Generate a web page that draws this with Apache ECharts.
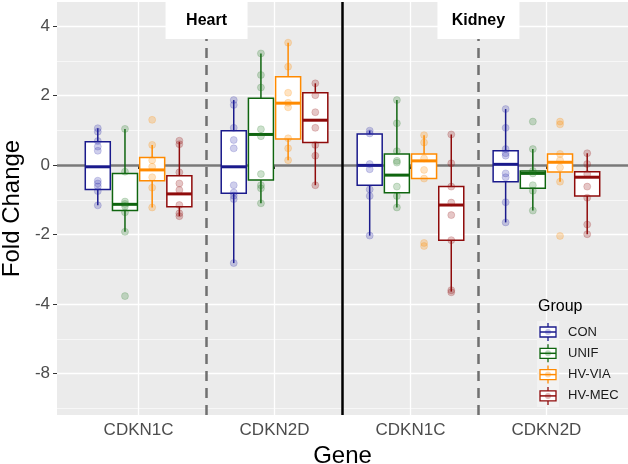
<!DOCTYPE html>
<html>
<head>
<meta charset="utf-8">
<script src="https://cdn.jsdelivr.net/npm/echarts@6/dist/echarts.min.js"></script>
<style>
html,body{margin:0;padding:0;background:#fff;}
#chart{width:628px;height:464px;}
</style>
</head>
<body>
<div id="chart"></div>
<script>
// ---------- data ----------
const genes = ['CDKN1C', 'CDKN2D', 'CDKN1C', 'CDKN2D'];
const tissues = ['Heart', 'Kidney'];
const groups = ['CON', 'UNIF', 'HV-VIA', 'HV-MEC'];
const yTickValues = [4, 2, 0, -2, -4, -6];
const yTickLabels = ['4', '2', '0', '-2', '-4', '-8'];
const yMinorValues = [3, 1, -1, -3, -5, -7];

// box stats per gene panel: [lower whisker, Q1, median, Q3, upper whisker]
const conBox = [
  [-1.16, -0.70, -0.05, 0.67, 1.06],
  [-2.82, -0.81, -0.05, 0.99, 1.87],
  [-2.03, -0.58, -0.01, 0.89, 0.99],
  [-1.65, -0.48, 0.02, 0.41, 1.61]
];
const unifBox = [
  [-1.92, -1.31, -1.13, -0.24, 1.04],
  [-1.10, -0.43, 0.88, 1.92, 3.21],
  [-1.22, -0.80, -0.29, 0.32, 1.87],
  [-1.31, -0.67, -0.24, -0.17, 0.46]
];
const viaBox = [
  [-1.22, -0.45, -0.14, 0.22, 0.58],
  [0.14, 0.75, 1.78, 2.54, 3.52],
  [-0.39, -0.39, 0.12, 0.32, 0.86],
  [-0.48, -0.20, 0.08, 0.32, 0.32]
];
const mecBox = [
  [-1.47, -1.20, -0.83, -0.31, 0.67],
  [-0.58, 0.65, 1.29, 2.08, 2.35],
  [-3.64, -2.16, -1.15, -0.62, 0.88],
  [-1.99, -0.89, -0.35, -0.19, 0.34]
];

// individual observations per gene panel
const conPoints = [
  [1.06, 0.96, 0.69, 0.53, 0.41, -0.45, -0.53, -0.62, -0.75, -1.16],
  [1.87, 1.73, 1.07, 0.72, 0.48, -0.58, -0.79, -0.88, -0.98, -2.82],
  [0.99, 0.91, 0.03, -0.12, -0.70, -0.89, -2.03],
  [1.61, 1.07, 0.46, 0.34, 0.27, -0.24, -0.35, -1.07, -1.65]
];
const unifPoints = [
  [1.04, -0.19, -1.05, -1.12, -1.18, -1.36, -1.92, -3.77],
  [3.21, 2.59, 2.23, 1.03, 0.83, -0.26, -0.58, -0.67, -1.10],
  [1.87, 1.20, 0.40, 0.12, 0.07, -0.62, -0.89, -1.22],
  [1.25, 0.46, -0.17, -0.24, -0.58, -0.74, -1.31]
];
const viaPoints = [
  [1.30, 0.58, 0.14, -0.05, -0.35, -0.65, -1.22],
  [3.52, 2.83, 2.08, 1.79, 1.66, 0.77, 0.48, 0.14],
  [0.86, 0.65, 0.19, -0.14, -0.39, -2.24, -2.33],
  [1.25, 1.17, 0.32, 0.14, -0.07, -0.48, -2.04]
];
const mecPoints = [
  [0.70, 0.60, -0.21, -0.53, -0.72, -1.15, -1.39, -1.47],
  [2.35, 2.01, 1.52, 1.07, 0.58, 0.27, -0.58],
  [0.88, 0.05, -0.62, -1.08, -1.44, -2.16, -3.60, -3.66],
  [0.34, 0.03, -0.26, -0.62, -0.94, -1.71, -1.99]
];

// ---------- styling ----------
const boxSets = [conBox, unifBox, viaBox, mecBox];
const pointSets = [conPoints, unifPoints, viaPoints, mecPoints];
const colors = ['#1a1a8c', '#0f650f', '#ff8a00', '#8f0b0b'];
const fadeColors = ['rgba(40,40,170,0.28)', 'rgba(30,120,30,0.28)', 'rgba(255,140,0,0.30)', 'rgba(150,20,20,0.30)'];
const DODGE = 0.2, BOX_W = 0.184;
const FONT = '"Liberation Sans", Arial, sans-serif';

function renderBox(params, api) {
  const x = api.value(0);
  const lo = api.coord([x, api.value(1)]);
  const q1 = api.coord([x, api.value(2)]);
  const md = api.coord([x, api.value(3)]);
  const q3 = api.coord([x, api.value(4)]);
  const hi = api.coord([x, api.value(5)]);
  const w = api.size([BOX_W, 0])[0];
  const c = api.visual('color');
  return {
    type: 'group',
    children: [
      { type: 'line', shape: { x1: lo[0], y1: lo[1], x2: q1[0], y2: q1[1] }, style: { stroke: c, lineWidth: 1.5 } },
      { type: 'line', shape: { x1: q3[0], y1: q3[1], x2: hi[0], y2: hi[1] }, style: { stroke: c, lineWidth: 1.5 } },
      { type: 'rect', shape: { x: q1[0] - w / 2, y: q3[1], width: w, height: q1[1] - q3[1] }, style: { fill: '#fff', stroke: c, lineWidth: 1.5 } },
      { type: 'line', shape: { x1: md[0] - w / 2, y1: md[1], x2: md[0] + w / 2, y2: md[1] }, style: { stroke: c, lineWidth: 3 } }
    ]
  };
}

const series = [];
series.push({
  type: 'line', data: [], z: 1, silent: true,
  markLine: {
    z: 1, silent: true, symbol: 'none', label: { show: false }, animation: false,
    data: [
      { yAxis: 0, lineStyle: { color: '#787878', width: 2.5, type: 'solid' } },
      { xAxis: 1.5, lineStyle: { color: '#707070', width: 2.5, type: [10, 7] } },
      { xAxis: 3.5, lineStyle: { color: '#707070', width: 2.5, type: [10, 7] } },
      { xAxis: 2.5, lineStyle: { color: '#000', width: 2.5, type: 'solid' } }
    ]
  }
});
groups.forEach((g, gi) => {
  const off = (gi - 1.5) * DODGE;
  series.push({
    name: g, type: 'custom', z: 2, renderItem: renderBox,
    itemStyle: { color: colors[gi] },
    encode: { x: 0, y: [1, 2, 3, 4, 5] },
    data: boxSets[gi].map((b, k) => [k + 1 + off].concat(b))
  });
});
groups.forEach((g, gi) => {
  const off = (gi - 1.5) * DODGE;
  const pts = [];
  pointSets[gi].forEach((arr, k) => arr.forEach(v => pts.push([k + 1 + off, v])));
  series.push({
    name: g + ' pts', type: 'scatter', z: 3, symbolSize: 7,
    itemStyle: { color: fadeColors[gi], borderColor: fadeColors[gi], borderWidth: 0.8 },
    data: pts
  });
});

const chart = echarts.init(document.getElementById('chart'), null, { renderer: 'canvas' });
const option = {
  animation: false,
  backgroundColor: '#fff',
  textStyle: { fontFamily: FONT },
  grid: { left: 57, right: 0, top: 2, bottom: 49, show: true, backgroundColor: '#EBEBEB', borderWidth: 0,
    containLabel: false, outerBoundsMode: 'none' },
  xAxis: [{
    type: 'value', min: 0.4, max: 4.6,
    name: 'Gene', nameLocation: 'middle', nameGap: 24,
    nameTextStyle: { fontSize: 24, color: '#000', fontFamily: FONT },
    axisLine: { show: false },
    axisTick: { show: true, length: 4, customValues: [1, 2, 3, 4], lineStyle: { color: '#333', width: 1 } },
    axisLabel: { customValues: [1, 2, 3, 4], margin: 7, fontSize: 17, color: '#4D4D4D', fontFamily: FONT,
      formatter: v => genes[Math.round(v) - 1] },
    splitLine: { show: true, lineStyle: { color: '#fff', width: 1.3 } }
  }],
  yAxis: [{
    type: 'value', min: -7.19, max: 4.69,
    name: 'Fold Change', nameLocation: 'middle', nameGap: 31, nameRotate: 90,
    nameTextStyle: { fontSize: 24, color: '#000', fontFamily: FONT },
    axisLine: { show: false },
    axisTick: { show: true, length: 4, customValues: yTickValues, lineStyle: { color: '#333', width: 1 } },
    axisLabel: { customValues: yTickValues, margin: 7, fontSize: 17, color: '#4D4D4D', fontFamily: FONT,
      formatter: v => yTickLabels[yTickValues.indexOf(Math.round(v))] },
    splitLine: { show: true, lineStyle: { color: '#fff', width: 1.3 } }
  }, {
    type: 'value', min: -7.19, max: 4.69, position: 'left',
    axisLine: { show: false }, axisLabel: { show: false },
    axisTick: { show: false, customValues: yMinorValues },
    splitLine: { show: true, lineStyle: { color: '#fff', width: 0.6 } }
  }],
  series: series
};
chart.setOption(option);

// strip labels and legend (graphic overlay)
const graphics = [];
[1.5, 3.5].forEach((xv, i) => {
  const px = chart.convertToPixel({ xAxisIndex: 0 }, xv);
  graphics.push({ type: 'rect', z: 10, shape: { x: px - 41, y: 2, width: 82, height: 37 }, style: { fill: '#fff' } });
  graphics.push({ type: 'text', z: 11, x: px, y: 21, style: { text: tissues[i], fontSize: 16, fontWeight: 'bold', fill: '#000', align: 'center', verticalAlign: 'middle', fontFamily: FONT } });
});
const legX = 548, legY0 = 332, legStep = 21.3;
graphics.push({ type: 'text', z: 10, x: 538, y: 307, style: { text: 'Group', fontSize: 16, fill: '#000', verticalAlign: 'middle', fontFamily: FONT } });
graphics.push({ type: 'rect', z: 10, shape: { x: 537, y: 321, width: 22, height: 86 }, style: { fill: '#F2F2F2' } });
groups.forEach((g, gi) => {
  const cy = legY0 + gi * legStep;
  graphics.push({ type: 'line', z: 11, shape: { x1: legX, y1: cy - 9, x2: legX, y2: cy + 9 }, style: { stroke: colors[gi], lineWidth: 1.3 } });
  graphics.push({ type: 'rect', z: 11, shape: { x: legX - 8, y: cy - 5, width: 16, height: 10 }, style: { fill: '#fff', stroke: colors[gi], lineWidth: 1.3 } });
  graphics.push({ type: 'line', z: 11, shape: { x1: legX - 8, y1: cy, x2: legX + 8, y2: cy }, style: { stroke: colors[gi], lineWidth: 1.5 } });
  graphics.push({ type: 'circle', z: 12, shape: { cx: legX, cy: cy, r: 3 }, style: { fill: fadeColors[gi] } });
  graphics.push({ type: 'text', z: 11, x: 568, y: cy, style: { text: g, fontSize: 13, fill: '#1a1a1a', verticalAlign: 'middle', fontFamily: FONT } });
});
chart.setOption({ graphic: graphics });
</script>
</body>
</html>
